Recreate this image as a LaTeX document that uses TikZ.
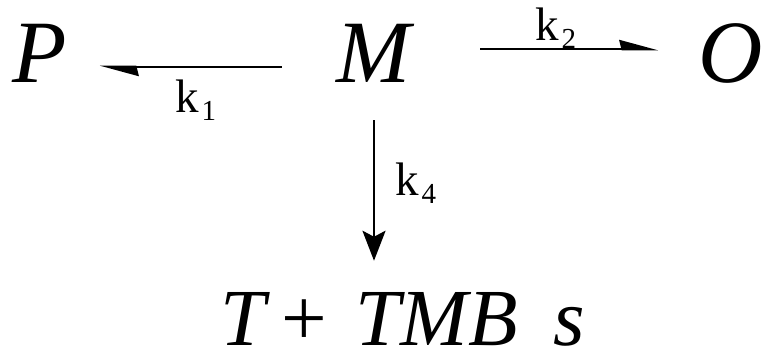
\documentclass[tikz,border=0pt]{standalone}
\usepackage{fontspec}
\setmainfont{Liberation Serif}
\usetikzlibrary{positioning}
\usetikzlibrary{arrows.meta}
\tikzset{
  % reacting species, large italic letters
  species/.style={inner sep=0pt, font=\fontsize{89}{89}\selectfont\itshape},
  % rate constant labels
  rate/.style={inner sep=0pt, anchor=base west, font=\fontsize{47}{47}\selectfont},
  % half-headed reaction arrows
  harp/.style={line width=2.6pt, -{Stealth[harpoon, length=34pt, width=18pt, inset=2pt]}},
  fwd/.style={line width=2.6pt, -{Stealth[length=30pt, width=23pt, inset=6pt]}},
}
% k with a lowered index
\newcommand\rk[1]{k\kern3pt\raisebox{-8pt}{\fontsize{29}{29}\selectfont #1}}

\begin{document}
\begin{tikzpicture}[x=1pt, y=-1pt]
\useasboundingbox (0,0) rectangle (762,362);

\node[species, anchor=base] (M) at (374,82) {M};
\node[species, base left=270pt of M] (P) {P};
\node[species, base right=287pt of M] (O) {O};
\node[species, anchor=base, font=\fontsize{81}{81}\selectfont] (TM) at (403,345)
  {\textit{T}\hspace{11pt}+\hspace{28pt}\textit{TMB}\hspace{36pt}\textit{s}};

\draw[harp] ([xshift=-55pt, yshift=15pt]M.base west) -- ([xshift=33pt, yshift=15pt]P.base east);
\draw[harp] ([xshift=69pt, yshift=33pt]M.base east) -- ([xshift=-40pt, yshift=33pt]O.base west);
\draw[fwd, shorten <=38pt, shorten >=31pt] (M.south) -- (M.south |- TM.north);

\node[rate] (k1) at (175,112) {\rk{1}};
\node[rate] (k2) at (535,40) {\rk{2}};
\node[rate] (k4) at (395,195) {\rk{4}};

\end{tikzpicture}
\end{document}
